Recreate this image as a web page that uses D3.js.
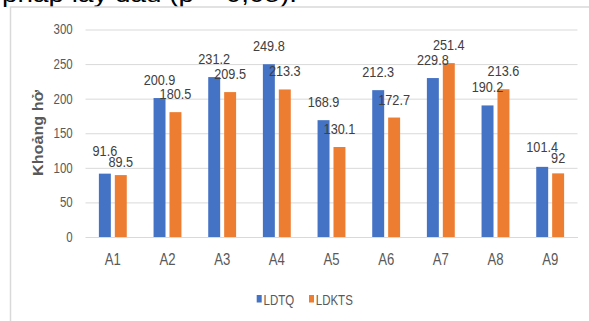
<!DOCTYPE html>
<html>
<head>
<meta charset="utf-8">
<script src="https://cdn.jsdelivr.net/npm/d3@7"></script>
<style>
  html, body { margin: 0; padding: 0; background: #fff; }
  svg { display: block; }
</style>
</head>
<body>
<svg id="chart" width="589" height="321"></svg>
<script>
const categories = ["A1", "A2", "A3", "A4", "A5", "A6", "A7", "A8", "A9"];
const seriesNames = ["LDTQ", "LDKTS"];
const ldtq = [91.6, 200.9, 231.2, 249.8, 168.9, 212.3, 229.8, 190.2, 101.4];
const ldkts = [89.5, 180.5, 209.5, 213.3, 130.1, 172.7, 251.4, 213.6, 92];
const yTicks = [0, 50, 100, 150, 200, 250, 300];
const colors = ["#4472C4", "#ED7D31"];
const yTitle = "Khoảng hở";
const headingText = "pháp lấy dấu (p = 0,05).";

const FONT = "'Liberation Sans', Arial, sans-serif";
const SX = 0.82; // horizontal condensing (narrow look)
const TXT = "#595959";

// condense text horizontally around its anchor point
function narrow(sel) {
  sel.each(function () {
    const t = d3.select(this);
    const x = +t.attr("x") || 0, yy = +t.attr("y") || 0;
    t.attr("x", 0).attr("y", 0)
     .attr("transform", `translate(${x},${yy}) scale(${SX},1)`);
  });
}

const svg = d3.select("#chart");
const values = [ldtq, ldkts];

// clipped heading line from the document above the chart
svg.append("text")
  .attr("x", 2).attr("y", 2)
  .attr("textLength", 295).attr("lengthAdjust", "spacingAndGlyphs")
  .attr("font-family", FONT)
  .attr("font-size", 22).attr("fill", "#000")
  .text(headingText);

// chart frame
svg.append("rect")
  .attr("x", 10.5).attr("y", 7).attr("width", 600).attr("height", 330)
  .attr("fill", "none").attr("stroke", "#d9d9d9").attr("stroke-width", 1.5);

const left = 85.5, right = 577.5;
const x0 = d3.scaleBand().domain(categories).range([left, right]).padding(0);
const x1 = d3.scaleBand().domain(seriesNames).range([0, x0.bandwidth()])
  .paddingInner(0.25).paddingOuter(0.84);
const y = d3.scaleLinear().domain([0, 300]).range([237, 29.5]);

// y axis with gridlines
const yAxis = svg.append("g")
  .attr("transform", `translate(${left},0)`)
  .call(d3.axisLeft(y).tickValues(yTicks).tickSize(-(right - left)).tickPadding(12.8));
yAxis.select(".domain").remove();
yAxis.selectAll(".tick line").attr("stroke", "#d9d9d9").attr("stroke-width", 1);
yAxis.selectAll(".tick text")
  .attr("font-family", FONT).attr("font-size", 14).attr("fill", TXT)
  .call(narrow);

// x axis
const xAxis = svg.append("g")
  .attr("transform", `translate(0,${y(0)})`)
  .call(d3.axisBottom(x0).tickSize(0).tickPadding(16.6));
xAxis.select(".domain").attr("stroke", "#d9d9d9");
xAxis.selectAll(".tick text")
  .attr("font-family", FONT).attr("font-size", 16).attr("fill", TXT)
  .call(narrow);

// bars
const rows = categories.map((c, i) => {
  const vals = seriesNames.map((s, k) => ({ s, k, v: values[k][i], ly: y(values[k][i]) - 13 }));
  // keep overlapping label pairs apart vertically
  const a = vals[0], b = vals[1];
  if (Math.abs(a.ly - b.ly) < 11) {
    const mid = (a.ly + b.ly) / 2, up = a.ly <= b.ly ? a : b, dn = up === a ? b : a;
    up.ly = mid - 5.5; dn.ly = mid + 5.5;
  }
  return { cat: c, vals };
});
const groups = svg.append("g").selectAll("g").data(rows).join("g")
  .attr("transform", d => `translate(${x0(d.cat)},0)`);
groups.selectAll("rect").data(d => d.vals).join("rect")
  .attr("x", d => x1(d.s)).attr("width", x1.bandwidth())
  .attr("y", d => y(d.v)).attr("height", d => y(0) - y(d.v))
  .attr("fill", d => colors[d.k]);
groups.selectAll("text").data(d => d.vals).join("text")
  .attr("x", d => x1(d.s) + x1.bandwidth() / 2)
  .attr("y", d => d.ly)
  .attr("text-anchor", "middle")
  .attr("font-family", FONT).attr("font-size", 15.5).attr("fill", "#404040")
  .text(d => d.v)
  .call(narrow);

// y title
svg.append("text")
  .attr("transform", `translate(43.3,133) rotate(-90)`)
  .attr("text-anchor", "middle")
  .attr("textLength", 86).attr("lengthAdjust", "spacingAndGlyphs")
  .attr("font-family", FONT)
  .attr("font-weight", "bold").attr("font-size", 14).attr("fill", TXT)
  .text(yTitle);

// legend
const legendX = [256.7, 309];
const lg = svg.append("g").selectAll("g").data(seriesNames).join("g")
  .attr("transform", (d, i) => `translate(${legendX[i]},295)`);
lg.append("rect").attr("width", 5).attr("height", 7.5).attr("fill", (d, i) => colors[i]);
lg.append("text").attr("x", 6.8).attr("y", 10)
  .attr("font-family", FONT).attr("font-size", 14).attr("fill", TXT)
  .text(d => d)
  .call(narrow);
</script>
</body>
</html>
